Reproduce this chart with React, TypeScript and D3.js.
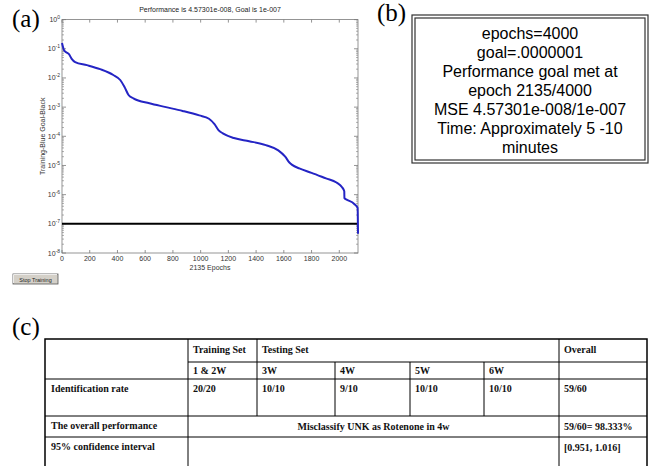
import React from 'react';
import * as d3 from 'd3';

// (a) training record
const epochs = [0, 15, 30, 50, 70, 95, 180, 275, 370, 420, 450, 480, 515, 630, 750, 870, 990, 1060, 1100, 1130, 1160, 1240, 1350, 1470, 1560, 1610, 1640, 1660, 1712, 1800, 1904, 1980, 2020, 2036, 2037, 2050, 2108, 2132, 2135];
const performance = [1.58e-1, 8.9e-2, 7.6e-2, 6.6e-2, 4.5e-2, 3.5e-2, 2.75e-2, 2.0e-2, 1.26e-2, 8.5e-3, 5.0e-3, 2.6e-3, 2.0e-3, 1.35e-3, 1.0e-3, 7.4e-4, 5.2e-4, 4.0e-4, 2.6e-4, 1.6e-4, 1.26e-4, 8.7e-5, 6.8e-5, 5.0e-5, 3.3e-5, 2.0e-5, 1.26e-5, 1.05e-5, 7.9e-6, 5.6e-6, 3.6e-6, 2.6e-6, 1.8e-6, 1.3e-6, 7.6e-7, 6.9e-7, 4.8e-7, 3.5e-7, 4.57301e-8];
const goal = 1e-7;
const maxEpoch = 2135;
const xTicks = [0, 200, 400, 600, 800, 1000, 1200, 1400, 1600, 1800, 2000];
const yExponents = [0, -1, -2, -3, -4, -5, -6, -7, -8];
const plotTitle = 'Performance is 4.57301e-008, Goal is 1e-007';
const xTitle = '2135 Epochs';
const yTitle = 'Training-Blue  Goal-Black';

// (b) info box
const infoLines = ['epochs=4000', 'goal=.0000001', 'Performance goal met at', 'epoch 2135/4000', 'MSE 4.57301e-008/1e-007', 'Time: Approximately 5 -10', 'minutes'];

// (c) table
const groupHeaders = ['Training Set', 'Testing Set', 'Overall'];
const subHeaders = ['1 & 2W', '3W', '4W', '5W', '6W'];
const rowLabels = ['Identification rate', 'The overall performance', '95% confidence interval'];
const idRates = ['20/20', '10/10', '9/10', '10/10', '10/10', '59/60'];
const overallNote = 'Misclassify UNK as Rotenone in 4w';
const overallValues = ['59/60= 98.333%', '[0.951, 1.016]'];

const sans = 'Liberation Sans, Arial, sans-serif';
const serif = 'Liberation Serif, Times New Roman, serif';

const App = () => {
    const x = d3.scaleLinear().domain([0, maxEpoch]).range([62, 358]);
    const y = d3.scaleLog().domain([1e-8, 1]).range([253, 19.6]);
    const [x0, x1] = x.range();
    const [yb, yt] = y.range();

    const line = d3.line<number>()
        .x((d, i) => x(epochs[i]))
        .y(d => y(d))
        .curve(d3.curveMonotoneX);

    // minor log ticks 2..9 in every decade
    const minor: number[] = [];
    for (let k = -8; k < 0; k++) for (let m = 2; m <= 9; m++) minor.push(m * Math.pow(10, k));

    const axisCol = '#7a7a7a';

    // table grid
    const cx = [45, 188, 257, 335, 410, 484, 559, 647];
    const ry = [339, 362, 379, 416, 437, 472];
    const tStyle = { fontFamily: serif, fontSize: 10, fontWeight: 'bold' as const, fill: '#111' };

    return (
        <svg width={650} height={466} style={{ position: 'absolute', left: 0, top: 0, background: '#fff' }}>
            {/* panel labels */}
            <text x={12} y={27} fontFamily={serif} fontSize={25}>(a)</text>
            <text x={377} y={21} fontFamily={serif} fontSize={25}>(b)</text>
            <text x={12} y={335} fontFamily={serif} fontSize={25}>(c)</text>

            {/* (a) plot */}
            <rect x={x0} y={yt} width={x1 - x0} height={yb - yt} fill="#fff" stroke={axisCol} strokeWidth={0.8} />
            {xTicks.map(t => (
                <g key={'xt' + t}>
                    <line x1={x(t)} x2={x(t)} y1={yb} y2={yb - 3} stroke={axisCol} strokeWidth={0.8} />
                    <line x1={x(t)} x2={x(t)} y1={yt} y2={yt + 3} stroke={axisCol} strokeWidth={0.8} />
                    <text x={x(t)} y={yb + 8} textAnchor="middle" fontFamily={sans} fontSize={7} fill="#333">{t}</text>
                </g>
            ))}
            {minor.map((v, i) => (
                <g key={'mn' + i}>
                    <line x1={x0} x2={x0 + 2} y1={y(v)} y2={y(v)} stroke={axisCol} strokeWidth={0.6} />
                    <line x1={x1} x2={x1 - 2} y1={y(v)} y2={y(v)} stroke={axisCol} strokeWidth={0.6} />
                </g>
            ))}
            {yExponents.map(e => {
                const v = Math.pow(10, e);
                return (
                    <g key={'yt' + e}>
                        <line x1={x0} x2={x0 + 4} y1={y(v)} y2={y(v)} stroke={axisCol} strokeWidth={0.8} />
                        <line x1={x1} x2={x1 - 4} y1={y(v)} y2={y(v)} stroke={axisCol} strokeWidth={0.8} />
                        <text x={x0 - 2} y={y(v) + 2.5} textAnchor="end" fontFamily={sans} fontSize={7} fill="#333">
                            10<tspan fontSize={5} dy={-3}>{e}</tspan>
                        </text>
                    </g>
                );
            })}
            <line x1={x(0)} x2={x(maxEpoch)} y1={y(goal)} y2={y(goal)} stroke="#000" strokeWidth={2} />
            <path d={line(performance) ?? ''} fill="none" stroke="#2424c4" strokeWidth={2} />
            <text x={(x0 + x1) / 2} y={12} textAnchor="middle" fontFamily={sans} fontSize={7} fill="#222">{plotTitle}</text>
            <text x={(x0 + x1) / 2} y={270} textAnchor="middle" fontFamily={sans} fontSize={7} fill="#333">{xTitle}</text>
            <text transform={`translate(45,${(yt + yb) / 2}) rotate(-90)`} textAnchor="middle" fontFamily={sans} fontSize={7} fill="#333">{yTitle}</text>

            {/* stop training button */}
            <rect x={13} y={274} width={45} height={10} fill="#d4d0c8" stroke="#555" strokeWidth={0.8} />
            <line x1={13.5} x2={57} y1={274.5} y2={274.5} stroke="#fff" strokeWidth={0.8} />
            <line x1={13.5} x2={13.5} y1={274.5} y2={283} stroke="#fff" strokeWidth={0.8} />
            <text x={35.5} y={281.5} textAnchor="middle" fontFamily={sans} fontSize={5.5} fill="#222">Stop Training</text>

            {/* (b) info box */}
            <rect x={412} y={15} width={236} height={148} fill="#fff" stroke="#333" strokeWidth={1.2} />
            <rect x={415} y={18} width={230} height={142} fill="none" stroke="#333" strokeWidth={1.2} />
            {infoLines.map((s, i) => (
                <text key={s} x={530} y={39 + i * 19} textAnchor="middle" fontFamily={sans} fontSize={16} fill="#000">{s}</text>
            ))}

            {/* (c) table */}
            <g stroke="#000" strokeWidth={1}>
                <rect x={cx[0]} y={ry[0]} width={cx[7] - cx[0]} height={ry[5] - ry[0]} fill="none" strokeWidth={1.5} />
                <line x1={cx[1]} x2={cx[7]} y1={ry[1]} y2={ry[1]} />
                {[2, 3, 4].map(r => <line key={'h' + r} x1={cx[0]} x2={cx[7]} y1={ry[r]} y2={ry[r]} />)}
                <line x1={cx[1]} x2={cx[1]} y1={ry[0]} y2={ry[5]} />
                <line x1={cx[2]} x2={cx[2]} y1={ry[0]} y2={ry[3]} />
                {[3, 4, 5].map(c => <line key={'v' + c} x1={cx[c]} x2={cx[c]} y1={ry[1]} y2={ry[3]} />)}
                <line x1={cx[6]} x2={cx[6]} y1={ry[0]} y2={ry[5]} />
            </g>
            <text x={cx[1] + 5} y={ry[0] + 14} {...tStyle}>{groupHeaders[0]}</text>
            <text x={cx[2] + 5} y={ry[0] + 14} {...tStyle}>{groupHeaders[1]}</text>
            <text x={cx[6] + 5} y={ry[0] + 14} {...tStyle}>{groupHeaders[2]}</text>
            {subHeaders.map((s, i) => (
                <text key={s} x={cx[1 + i] + 5} y={ry[1] + 12} {...tStyle}>{s}</text>
            ))}
            {rowLabels.map((s, i) => (
                <text key={s} x={cx[0] + 6} y={ry[2 + i] + 13} {...tStyle}>{s}</text>
            ))}
            {idRates.map((s, i) => (
                <text key={'r' + i} x={cx[1 + i] + 5} y={ry[2] + 13} {...tStyle}>{s}</text>
            ))}
            <text x={(cx[1] + cx[6]) / 2} y={ry[3] + 14} textAnchor="middle" {...tStyle}>{overallNote}</text>
            {overallValues.map((s, i) => (
                <text key={s} x={cx[6] + 5} y={ry[3 + i] + 14} {...tStyle}>{s}</text>
            ))}
        </svg>
    );
};

export default App;
